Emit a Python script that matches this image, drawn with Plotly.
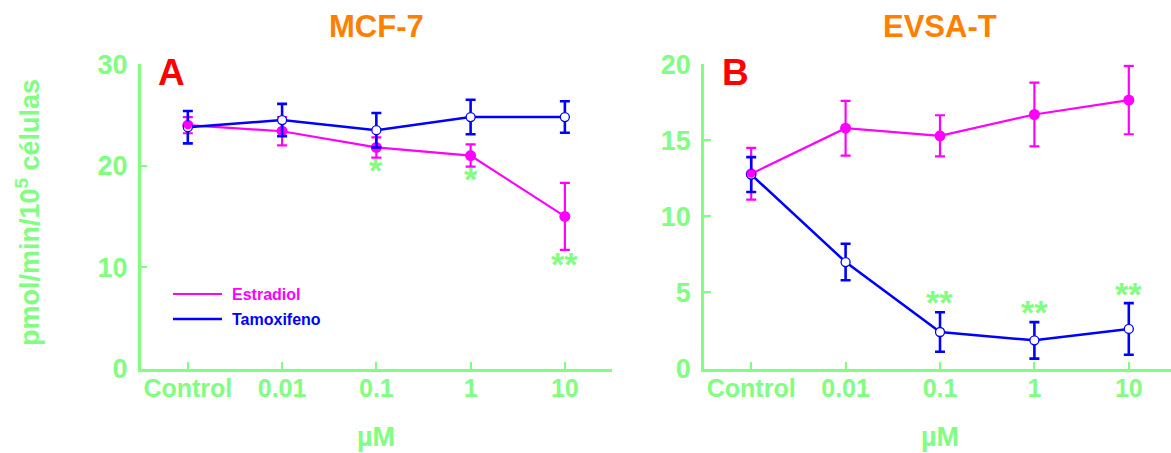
import plotly.graph_objects as go

W, H = 1171, 453

categories = ["Control", "0.01", "0.1", "1", "10"]

mcf7_estradiol = [24.0, 23.4, 21.8, 21.0, 15.0]
mcf7_estradiol_err = [0.8, 1.4, 1.0, 1.1, 3.3]
mcf7_tamoxifeno = [23.8, 24.5, 23.5, 24.8, 24.8]
mcf7_tamoxifeno_err = [1.6, 1.6, 1.7, 1.7, 1.55]

evsa_estradiol = [12.8, 15.8, 15.3, 16.7, 17.65]
evsa_estradiol_err = [1.7, 1.8, 1.35, 2.1, 2.25]
evsa_tamoxifeno = [12.75, 7.0, 2.4, 1.85, 2.6]
evsa_tamoxifeno_err = [1.15, 1.2, 1.3, 1.2, 1.7]

mcf7_sig_x = ["0.1", "1", "10"]
mcf7_sig_y = [19.9, 19.0, 10.6]
mcf7_sig_text = ["*", "*", "**"]
evsa_sig_x = ["0.1", "1", "10"]
evsa_sig_y = [4.54, 3.88, 5.12]
evsa_sig_text = ["**", "**", "**"]

mcf7_yticks = [0, 10, 20, 30]
evsa_yticks = [0, 5, 10, 15, 20]

GREEN = "#80FF80"
MAGENTA = "#FF00FF"
BLUE = "#0000FF"
ORANGE = "#FF8000"
RED = "#FF0000"
FONT = "Liberation Sans, Arial, sans-serif"


def px_x(p):
    return p / W


def px_y(p):
    return 1 - p / H


fig = go.Figure()

panels = [
    ("x", "y", mcf7_estradiol, mcf7_estradiol_err, mcf7_tamoxifeno, mcf7_tamoxifeno_err),
    ("x2", "y2", evsa_estradiol, evsa_estradiol_err, evsa_tamoxifeno, evsa_tamoxifeno_err),
]

for xa, ya, est, est_err, tam, tam_err in panels:
    fig.add_trace(go.Scatter(
        x=categories, y=est, xaxis=xa, yaxis=ya, mode="lines+markers",
        name="Estradiol", showlegend=False,
        line=dict(color=MAGENTA, width=2.2),
        marker=dict(symbol="circle", size=11, color=MAGENTA),
        error_y=dict(type="data", array=est_err, visible=True,
                     color=MAGENTA, thickness=2.2, width=5),
        cliponaxis=False,
    ))
    fig.add_trace(go.Scatter(
        x=categories, y=tam, xaxis=xa, yaxis=ya, mode="lines+markers",
        name="Tamoxifeno", showlegend=False,
        line=dict(color=BLUE, width=2.5),
        marker=dict(symbol="circle", size=9, color="white",
                    line=dict(color=BLUE, width=1.3)),
        error_y=dict(type="data", array=tam_err, visible=True,
                     color=BLUE, thickness=2.6, width=5),
        cliponaxis=False,
    ))
    # Estradiol control dot redrawn on top (visible inside the open circle)
    fig.add_trace(go.Scatter(
        x=categories[:1], y=est[:1], xaxis=xa, yaxis=ya, mode="markers",
        showlegend=False, hoverinfo="skip",
        marker=dict(symbol="circle", size=8, color=MAGENTA),
        cliponaxis=False,
    ))

axis_common = dict(
    showline=True, linecolor=GREEN, linewidth=2.5,
    ticks="inside", ticklen=7, tickwidth=1.5, tickcolor=GREEN,
    showgrid=False, zeroline=False, fixedrange=True, automargin=False,
)

ydom = [px_y(368.5), px_y(64.3)]

fig.update_layout(
    template="none",
    width=W, height=H, autosize=False,
    margin=dict(l=0, r=0, t=0, b=0, pad=0),
    paper_bgcolor="white", plot_bgcolor="white",
    showlegend=False,
    xaxis=dict(**axis_common, type="category", categoryorder="array",
               categoryarray=categories, range=[-0.5, 4.5],
               domain=[px_x(140.7), px_x(612)], anchor="y",
               tickfont=dict(family=FONT, size=25, color=GREEN, weight="bold"),
               ticklabelstandoff=-4),
    yaxis=dict(**axis_common, range=[0, 30], tickvals=mcf7_yticks,
               domain=ydom, anchor="x",
               tickfont=dict(family=FONT, size=27, color=GREEN, weight="bold"),
               ticklabelstandoff=5),
    xaxis2=dict(**axis_common, type="category", categoryorder="array",
                categoryarray=categories, range=[-0.5, 4.447],
                domain=[px_x(704), 1.0], anchor="y2",
                tickfont=dict(family=FONT, size=25, color=GREEN, weight="bold"),
                ticklabelstandoff=-4),
    yaxis2=dict(**axis_common, range=[0, 20], tickvals=evsa_yticks,
                domain=ydom, anchor="x2",
                tickfont=dict(family=FONT, size=27, color=GREEN, weight="bold"),
                ticklabelstandoff=5),
)

ann = []
# significance stars (category axes: position by category index)
for xs, ys, ts, xr, yr in [(mcf7_sig_x, mcf7_sig_y, mcf7_sig_text, "x", "y"),
                           (evsa_sig_x, evsa_sig_y, evsa_sig_text, "x2", "y2")]:
    for xv, yv, tv in zip(xs, ys, ts):
        ann.append(dict(x=categories.index(xv), y=yv, xref=xr, yref=yr, text=tv,
                        showarrow=False, xanchor="center", yanchor="middle", yshift=-3,
                        font=dict(family=FONT, size=34, color=GREEN, weight="bold")))

# panel titles
ann.append(dict(x=px_x(376), y=px_y(27), xref="paper", yref="paper", text="MCF-7",
                showarrow=False, xanchor="center", yanchor="middle",
                font=dict(family=FONT, size=31, color=ORANGE, weight="bold")))
ann.append(dict(x=px_x(940), y=px_y(27), xref="paper", yref="paper", text="EVSA-T",
                showarrow=False, xanchor="center", yanchor="middle",
                font=dict(family=FONT, size=31, color=ORANGE, weight="bold")))
# panel letters
ann.append(dict(x=px_x(171), y=px_y(72), xref="paper", yref="paper", text="A",
                showarrow=False, xanchor="center", yanchor="middle",
                font=dict(family=FONT, size=37, color=RED, weight="bold")))
ann.append(dict(x=px_x(735), y=px_y(73), xref="paper", yref="paper", text="B",
                showarrow=False, xanchor="center", yanchor="middle",
                font=dict(family=FONT, size=37, color=RED, weight="bold")))
# axis titles
for cx in (376, 940):
    ann.append(dict(x=px_x(cx), y=px_y(437), xref="paper", yref="paper", text="µM",
                    showarrow=False, xanchor="center", yanchor="middle",
                    font=dict(family=FONT, size=27, color=GREEN, weight="bold")))
ann.append(dict(x=px_x(28), y=px_y(213), xref="paper", yref="paper",
                text="pmol/min/10<sup>5</sup> células", textangle=-90,
                showarrow=False, xanchor="center", yanchor="middle",
                font=dict(family=FONT, size=27, color=GREEN, weight="bold")))
# legend
legend_items = [("Estradiol", MAGENTA, 294, 2.2), ("Tamoxifeno", BLUE, 319, 2.5)]
shapes = []
for label, col, ypix, lw in legend_items:
    shapes.append(dict(type="line", xref="paper", yref="paper",
                       x0=px_x(173), x1=px_x(222), y0=px_y(ypix), y1=px_y(ypix),
                       line=dict(color=col, width=lw)))
    ann.append(dict(x=px_x(230), y=px_y(ypix), xref="paper", yref="paper", text=label,
                    showarrow=False, xanchor="left", yanchor="middle",
                    font=dict(family=FONT, size=16, color=col, weight="bold")))

fig.update_layout(annotations=ann, shapes=shapes)

fig.write_html(
    "out.html",
    config={"responsive": False, "displayModeBar": False},
    post_script="document.body.style.margin='0';document.body.style.overflow='hidden';",
)
